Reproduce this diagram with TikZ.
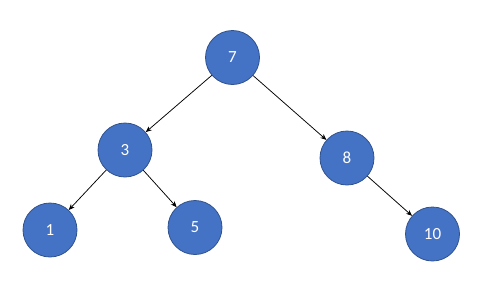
\documentclass[tikz,border=0pt]{standalone}
\usepackage{fontspec}
\setmainfont{Carlito}
\usetikzlibrary{arrows.meta}
\definecolor{nodefill}{HTML}{4472C4}
\definecolor{nodeedge}{HTML}{2F528F}
\begin{document}
\begin{tikzpicture}[x=1pt,y=-1pt,
  treenode/.style={circle,fill=nodefill,draw=nodeedge,line width=0.8pt,minimum size=54pt,inner sep=0pt,text=white,font=\fontsize{17}{17}\selectfont},
  link/.style={draw=black,line width=0.75pt,-{Stealth[length=6pt,width=5pt]}}]
\useasboundingbox (0,0) rectangle (495,295);
\node[treenode] (n7) at (232.5,57.5) {7};
\node[treenode] (n3) at (125,150) {3};
\node[treenode] (n8) at (347,158) {8};
\node[treenode] (n1) at (50,230) {1};
\node[treenode] (n5) at (195,227.5) {5};
\node[treenode] (n10) at (432.5,234) {10};
\draw[link] (n7) -- (n3);
\draw[link] (n7) -- (n8);
\draw[link] (n3) -- (n1);
\draw[link] (n3) -- (n5);
\draw[link] (n8) -- (n10);
\end{tikzpicture}
\end{document}
